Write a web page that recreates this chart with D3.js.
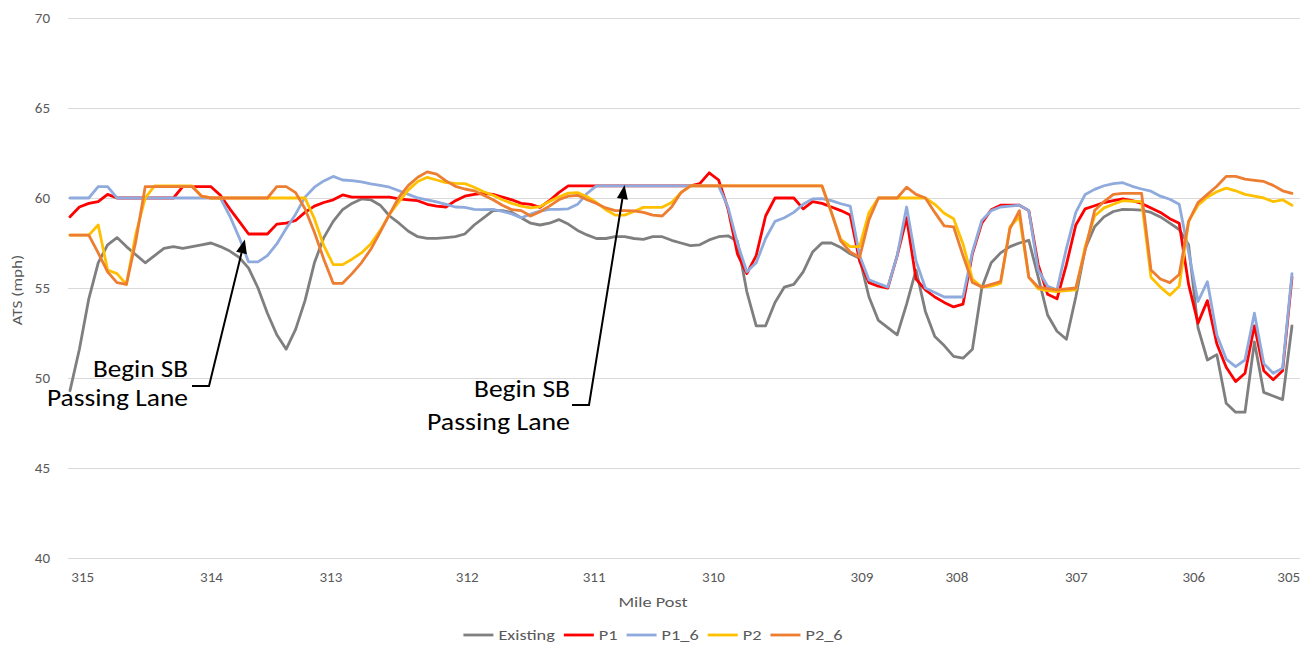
<!DOCTYPE html>
<html>
<head>
<meta charset="utf-8">
<script src="https://cdn.jsdelivr.net/npm/d3@7"></script>
<style>
  body { margin: 0; background: #ffffff; }
  svg { display: block; }
  text { font-family: Carlito, Lato, "Open Sans", sans-serif; }
</style>
</head>
<body>
<svg id="chart" width="1312" height="648"></svg>
<script>
// Average travel speed (mph) at each measurement point, southbound from MP 315 to MP 305
const existing = [
  49.3, 51.6, 54.4, 56.4, 57.4, 57.8, 57.3, 56.85, 56.4, 56.8,
  57.2, 57.3, 57.2, 57.3, 57.4, 57.5, 57.3, 57.05, 56.7, 56.1,
  55.0, 53.6, 52.4, 51.6, 52.7, 54.3, 56.4, 57.8, 58.7, 59.35,
  59.7, 59.95, 59.9, 59.6, 59.0, 58.6, 58.15, 57.85, 57.76, 57.76,
  57.8, 57.85, 58.0, 58.5, 58.9, 59.3, 59.3, 59.2, 58.9, 58.6,
  58.5, 58.6, 58.8, 58.55, 58.2, 57.95, 57.75, 57.75, 57.85, 57.85,
  57.75, 57.7, 57.85, 57.85, 57.65, 57.5, 57.35, 57.4, 57.67, 57.85,
  57.9, 57.6, 54.8, 52.9, 52.9, 54.2, 55.05, 55.2, 55.9, 57.0,
  57.5, 57.5, 57.25, 56.9, 56.65, 54.5, 53.2, 52.8, 52.4, 54.1,
  56.0, 53.7, 52.3, 51.8, 51.2, 51.1, 51.6, 55.0, 56.4, 56.95,
  57.3, 57.5, 57.65, 55.6, 53.5, 52.6, 52.15, 54.5, 57.2, 58.4,
  58.95, 59.25, 59.37, 59.35, 59.33, 59.2, 58.95, 58.6, 58.25, 57.4,
  52.8, 51.0, 51.3, 48.6, 48.1, 48.1, 52.0, 49.2, 49.0, 48.8,
  52.9
];
const p1 = [
  58.96, 59.5, 59.7, 59.8, 60.2, 60.0, 60.0, 60.0, 60.0, 60.0,
  60.0, 60.0, 60.63, 60.63, 60.63, 60.63, 60.15, 59.4, 58.7, 58.0,
  58.0, 58.0, 58.55, 58.6, 58.75, 59.2, 59.55, 59.75, 59.9, 60.17,
  60.05, 60.05, 60.05, 60.05, 60.05, 59.95, 59.9, 59.85, 59.65, 59.55,
  59.5, 59.85, 60.1, 60.2, 60.26, 60.2, 60.05, 59.9, 59.7, 59.65,
  59.48, 59.85, 60.3, 60.67, 60.67, 60.67, 60.67, 60.67, 60.67, 60.67,
  60.67, 60.67, 60.67, 60.67, 60.67, 60.67, 60.67, 60.8, 61.4, 61.0,
  59.4, 56.9, 55.8, 56.8, 59.0, 60.0, 60.0, 60.0, 59.4, 59.8,
  59.7, 59.5, 59.3, 59.05, 56.5, 55.3, 55.1, 55.0, 56.8, 58.9,
  55.5, 54.9, 54.5, 54.2, 53.95, 54.1, 56.9, 58.6, 59.35, 59.6,
  59.6, 59.6, 59.3, 56.3, 54.65, 54.4, 56.3, 58.5, 59.4, 59.57,
  59.75, 59.85, 59.95, 59.85, 59.7, 59.45, 59.2, 58.85, 58.6, 55.2,
  53.05, 54.3, 51.9, 50.6, 49.8, 50.26, 52.9, 50.4, 49.9, 50.4,
  55.6
];
const p1_6 = [
  60.0, 60.0, 60.0, 60.63, 60.63, 60.0, 60.0, 60.0, 60.0, 60.0,
  60.0, 60.0, 60.0, 60.0, 60.0, 60.0, 60.0, 59.0, 57.8, 56.45,
  56.45, 56.8, 57.45, 58.3, 59.1, 60.05, 60.6, 60.95, 61.2, 61.0,
  60.97, 60.9, 60.78, 60.7, 60.6, 60.4, 60.2, 60.0, 59.9, 59.78,
  59.65, 59.5, 59.48, 59.37, 59.35, 59.37, 59.25, 59.12, 58.9, 59.1,
  59.27, 59.37, 59.37, 59.4, 59.65, 60.25, 60.67, 60.67, 60.67, 60.67,
  60.67, 60.67, 60.67, 60.67, 60.67, 60.67, 60.67, 60.67, 60.67, 60.67,
  59.5, 57.5, 55.9, 56.4, 57.75, 58.7, 58.9, 59.2, 59.65, 59.95,
  59.97, 59.85, 59.68, 59.55, 56.8, 55.45, 55.25, 55.05, 56.8, 59.5,
  56.5, 55.0, 54.75, 54.5, 54.5, 54.5, 57.0, 58.75, 59.3, 59.5,
  59.55, 59.6, 59.3, 56.0, 55.1, 54.9, 57.2, 59.2, 60.2, 60.48,
  60.68, 60.8, 60.85, 60.65, 60.5, 60.38, 60.1, 59.93, 59.65, 57.0,
  54.25, 55.35, 52.4, 51.05, 50.63, 51.0, 53.6, 50.8, 50.26, 50.55,
  55.8
];
const p2 = [
  57.94, 57.94, 57.94, 58.5, 56.0, 55.8, 55.2, 58.0, 60.0, 60.67,
  60.67, 60.67, 60.67, 60.67, 60.1, 60.0, 60.0, 60.0, 60.0, 60.0,
  60.0, 60.0, 60.0, 60.0, 60.0, 60.0, 58.85, 57.35, 56.3, 56.3,
  56.6, 56.95, 57.45, 58.2, 59.1, 59.8, 60.45, 60.92, 61.15, 61.0,
  60.85, 60.81, 60.8, 60.6, 60.35, 60.15, 59.9, 59.7, 59.55, 59.45,
  59.52, 59.8, 60.05, 60.27, 60.3, 60.07, 59.75, 59.35, 59.05, 59.05,
  59.25, 59.48, 59.48, 59.48, 59.75, 60.3, 60.67, 60.67, 60.67, 60.67,
  60.67, 60.67, 60.67, 60.67, 60.67, 60.67, 60.67, 60.67, 60.67, 60.67,
  60.67, 59.2, 57.7, 57.3, 57.3, 59.2, 60.0, 60.0, 60.0, 60.0,
  60.0, 60.0, 59.65, 59.15, 58.85, 57.45, 55.5, 55.05, 55.1, 55.25,
  58.4, 58.96, 55.6, 54.95, 54.85, 54.8, 54.85, 54.9, 57.3, 59.0,
  59.45, 59.65, 59.85, 59.82, 59.8, 55.6, 55.05, 54.6, 55.1, 58.7,
  59.6, 60.05, 60.35, 60.55, 60.4, 60.2, 60.1, 60.0, 59.8, 59.9,
  59.6
];
const p2_6 = [
  57.94, 57.94, 57.94, 56.95, 55.9, 55.3, 55.2, 57.6, 60.63, 60.63,
  60.63, 60.63, 60.63, 60.63, 60.1, 60.0, 60.0, 60.0, 60.0, 60.0,
  60.0, 60.0, 60.63, 60.63, 60.3, 59.4, 58.1, 56.6, 55.26, 55.26,
  55.8, 56.4, 57.15, 58.1, 59.1, 60.05, 60.7, 61.15, 61.45, 61.33,
  60.95, 60.65, 60.5, 60.4, 60.15, 59.9, 59.6, 59.35, 59.3, 59.0,
  59.24, 59.55, 59.9, 60.1, 60.15, 59.9, 59.7, 59.45, 59.3, 59.3,
  59.28, 59.2, 59.05, 59.0, 59.5, 60.3, 60.67, 60.67, 60.67, 60.67,
  60.67, 60.67, 60.67, 60.67, 60.67, 60.67, 60.67, 60.67, 60.67, 60.67,
  60.67, 59.2, 57.6, 57.0, 56.7, 58.8, 60.0, 60.0, 60.0, 60.6,
  60.2, 60.0, 59.2, 58.45, 58.4, 56.8, 55.3, 55.05, 55.2, 55.35,
  58.3, 59.3, 55.6, 55.05, 54.97, 54.9, 54.95, 55.0, 57.1, 59.3,
  59.8, 60.2, 60.26, 60.26, 60.26, 56.0, 55.5, 55.3, 55.75, 58.7,
  59.75, 60.2, 60.65, 61.2, 61.2, 61.05, 60.98, 60.92, 60.7, 60.4,
  60.26
];

const seriesNames = ["Existing", "P1", "P1_6", "P2", "P2_6"];
const seriesValues = [existing, p1, p1_6, p2, p2_6];
const seriesColors = ["#7f7f7f", "#ff0000", "#8faadc", "#ffc000", "#ed7d31"];

// Speed axis ticks
const yTicks = [40, 45, 50, 55, 60, 65, 70];

// Mile post labels and the measurement point each one sits under
const mileLabels = ["315", "314", "313", "312", "311", "310", "309", "308", "307", "306", "305"];
const mileLabelAt = [1.3, 15, 27.7, 42.2, 55.7, 68.4, 84.2, 94.3, 107, 119.5, 129.6];

// Passing-lane notes: text lines and the measurement point / speed the arrow points at
const notes = [
  { lines: ["Begin SB", "Passing Lane"], at: 18.6, speed: 57.7 },
  { lines: ["Begin SB", "Passing Lane"], at: 59.0, speed: 60.72 }
];

// ---------------------------------------------------------------
const svg = d3.select("#chart");
const W = 1312, H = 648;
svg.append("rect").attr("width", W).attr("height", H).attr("fill", "#ffffff");

const plot = { left: 68, right: 1300, top: 18, bottom: 558, first: 70, last: 1292 };
const x = d3.scaleLinear().domain([0, existing.length - 1]).range([plot.first, plot.last]);
const y = d3.scaleLinear().domain([40, 70]).range([plot.bottom, plot.top]);

const textColor = "#595959";
const stretch = 1.22; // horizontal text widening used for titles and legend labels

function widen(sel, factor) {
  sel.each(function () {
    const w = this.getComputedTextLength();
    d3.select(this).attr("textLength", w * factor).attr("lengthAdjust", "spacingAndGlyphs");
  });
}

// Gridlines + speed labels
const yAxis = svg.append("g")
  .attr("transform", `translate(${plot.left},0)`)
  .call(d3.axisLeft(y).tickValues(yTicks).tickSize(-(plot.right - plot.left)).tickPadding(18));
yAxis.select(".domain").remove();
yAxis.selectAll(".tick line").attr("stroke", "#d9d9d9").attr("stroke-width", 1);
yAxis.selectAll(".tick text")
  .attr("fill", textColor).attr("font-size", 15)
  .style("font-family", "Carlito, Lato, sans-serif");

// Mile post labels
const xAxis = svg.append("g")
  .attr("transform", `translate(0,${plot.bottom})`)
  .call(d3.axisBottom(x).tickValues(mileLabelAt).tickFormat((d, i) => mileLabels[i]).tickSize(0).tickPadding(13));
xAxis.select(".domain").remove();
xAxis.selectAll(".tick text")
  .attr("fill", textColor).attr("font-size", 15)
  .style("font-family", "Carlito, Lato, sans-serif");

// Axis titles
svg.append("text")
  .attr("x", 653).attr("y", 607)
  .attr("text-anchor", "middle")
  .attr("fill", textColor).attr("font-size", 15)
  .text("Mile Post")
  .call(widen, stretch);

svg.append("text")
  .attr("transform", `translate(22,${(plot.top + plot.bottom) / 2 + 2}) rotate(-90)`)
  .attr("text-anchor", "middle")
  .attr("fill", textColor).attr("font-size", 14)
  .text("ATS (mph)")
  .call(widen, stretch);

// Series lines
const line = d3.line()
  .x((d, i) => x(i))
  .y(d => y(d));

svg.append("g").selectAll("path")
  .data(seriesValues)
  .join("path")
  .attr("d", line)
  .attr("fill", "none")
  .attr("stroke", (d, i) => seriesColors[i])
  .attr("stroke-width", 2.8)
  .attr("stroke-linejoin", "round")
  .attr("stroke-linecap", "round");

// Passing-lane callouts
const noteLayout = [
  { right: 188, base: [377, 406], width: [95, 141], foot: [192, 386] },
  { right: 570, base: [397, 430], width: [96, 143], foot: [572, 405] }
];
notes.forEach((n, k) => {
  const L = noteLayout[k];
  const g = svg.append("g");
  n.lines.forEach((t, j) => {
    g.append("text")
      .attr("x", L.right).attr("y", L.base[j])
      .attr("text-anchor", "end")
      .attr("font-size", 24)
      .attr("fill", "#000000")
      .attr("textLength", L.width[j])
      .attr("lengthAdjust", "spacingAndGlyphs")
      .text(t);
  });
  const tipX = x(n.at), tipY = y(n.speed);
  const kneeX = L.foot[0] + 17, kneeY = L.foot[1];
  const dx = tipX - kneeX, dy = tipY - kneeY;
  const len = Math.hypot(dx, dy);
  const ux = dx / len, uy = dy / len;
  const headLen = 14, headHalf = 5.5;
  const bx = tipX - ux * headLen, by = tipY - uy * headLen;
  g.append("path")
    .attr("d", `M${L.foot[0]},${L.foot[1]}H${kneeX}L${bx},${by}`)
    .attr("fill", "none").attr("stroke", "#000000").attr("stroke-width", 2);
  g.append("path")
    .attr("d", `M${tipX},${tipY}L${bx - uy * headHalf},${by + ux * headHalf}L${bx + uy * headHalf},${by - ux * headHalf}Z`)
    .attr("fill", "#000000");
});

// Legend
const legend = svg.append("g");
const items = seriesNames.map((name, i) => {
  const g = legend.append("g");
  g.append("line").attr("x1", 0).attr("x2", 30).attr("y1", 0).attr("y2", 0)
    .attr("stroke", seriesColors[i]).attr("stroke-width", 2.8);
  const t = g.append("text").attr("x", 35).attr("y", 0).attr("dy", "0.35em")
    .attr("fill", textColor).attr("font-size", 15).text(name);
  const w = t.node().getComputedTextLength() * stretch;
  t.attr("textLength", w).attr("lengthAdjust", "spacingAndGlyphs");
  return { g, w: 35 + w };
});
const gap = 9;
const total = d3.sum(items, d => d.w) + gap * (items.length - 1);
let cx = 653 - total / 2;
items.forEach(it => {
  it.g.attr("transform", `translate(${cx},635)`);
  cx += it.w + gap;
});
</script>
</body>
</html>
